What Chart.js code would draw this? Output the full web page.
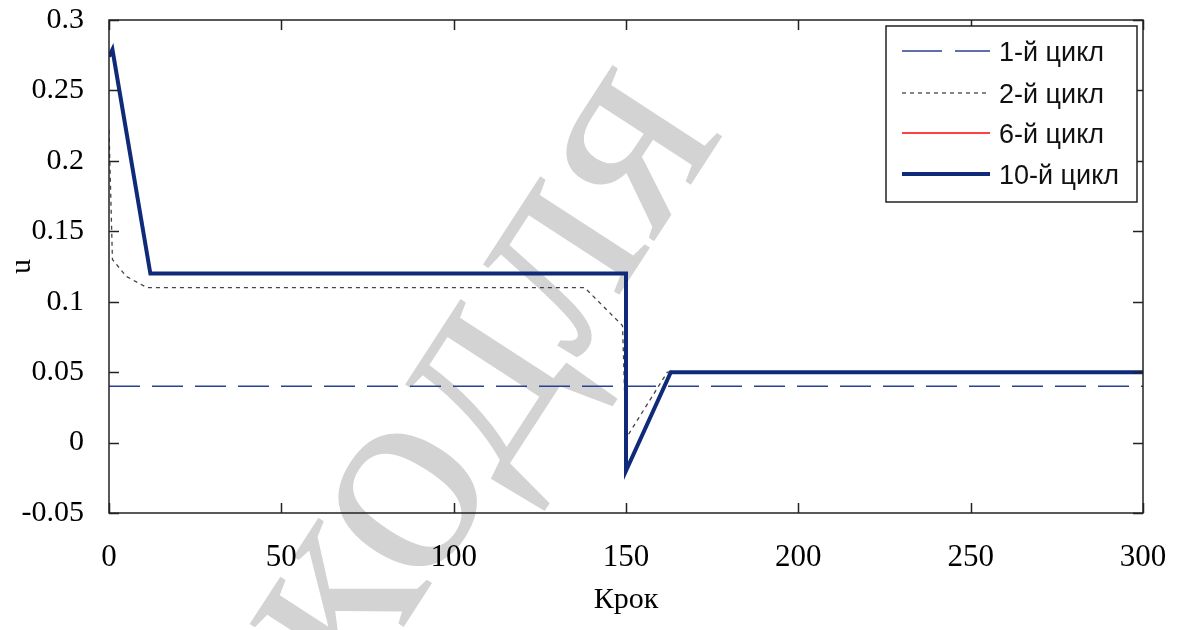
<!DOCTYPE html>
<html>
<head>
<meta charset="utf-8">
<script src="https://cdn.jsdelivr.net/npm/chart.js@4.4.0/dist/chart.umd.min.js"></script>
<style>
  html, body { margin: 0; padding: 0; background: #fff; }
  #wrap { width: 1179px; height: 630px; }
</style>
</head>
<body>
<div id="wrap"><canvas id="chart" width="1179" height="630"></canvas></div>
<script>
// tick values
const xTicks = [0, 50, 100, 150, 200, 250, 300];
const yTicks = [-0.05, 0, 0.05, 0.1, 0.15, 0.2, 0.25, 0.3];

// series
const seriesNames = ['1-й цикл', '2-й цикл', '6-й цикл', '10-й цикл'];
const cycle1X = [0, 300];
const cycle1Y = [0.04, 0.04];
const cycle2X = [0, 1, 5, 11, 138, 149, 150, 162, 300];
const cycle2Y = [0.222, 0.13, 0.118, 0.11, 0.11, 0.083, 0.003, 0.05, 0.05];
const cycle6X = [0, 1, 12, 150, 150, 163, 300];
const cycle6Y = [0.274, 0.279, 0.12, 0.12, -0.02, 0.05, 0.05];
const cycle10X = [0, 1, 12, 150, 150, 163, 300];
const cycle10Y = [0.274, 0.279, 0.12, 0.12, -0.02, 0.05, 0.05];

const watermark = 'кодля';

function pts(xs, ys) {
  return xs.map((x, i) => ({ x: x, y: ys[i] }));
}

const SERIF = "'Liberation Serif', 'Times New Roman', serif";
const SANS = "'Liberation Sans', Arial, sans-serif";

// gray watermark behind everything
const watermarkPlugin = {
  id: 'watermark',
  beforeDraw(chart) {
    const ctx = chart.ctx;
    ctx.save();
    ctx.translate(478, 375);
    ctx.rotate(-57 * Math.PI / 180);
    ctx.font = '285px ' + SERIF;
    ctx.fillStyle = '#d3d3d3';
    ctx.textAlign = 'center';
    ctx.textBaseline = 'middle';
    ctx.fillText(watermark, 0, 0);
    ctx.restore();
  }
};

// matlab-like box with inward ticks, and the legend
const boxPlugin = {
  id: 'box',
  afterDraw(chart) {
    const ctx = chart.ctx;
    const a = chart.chartArea;
    const sx = chart.scales.x, sy = chart.scales.y;
    ctx.save();
    ctx.strokeStyle = '#222';
    ctx.lineWidth = 1.5;
    ctx.strokeRect(a.left, a.top, a.right - a.left, a.bottom - a.top);
    ctx.beginPath();
    xTicks.forEach(v => {
      const px = Math.round(sx.getPixelForValue(v)) + 0.5;
      ctx.moveTo(px, a.bottom); ctx.lineTo(px, a.bottom - 10);
      ctx.moveTo(px, a.top); ctx.lineTo(px, a.top + 10);
    });
    yTicks.forEach(v => {
      const py = Math.round(sy.getPixelForValue(v)) + 0.5;
      ctx.moveTo(a.left, py); ctx.lineTo(a.left + 10, py);
      ctx.moveTo(a.right, py); ctx.lineTo(a.right - 10, py);
    });
    ctx.stroke();

    // legend box
    const lx = 886, ly = 26, lw = 251, lh = 176;
    ctx.fillStyle = '#fff';
    ctx.fillRect(lx, ly, lw, lh);
    ctx.strokeStyle = '#222';
    ctx.lineWidth = 1.5;
    ctx.strokeRect(lx, ly, lw, lh);
    const rows = [51, 93, 133, 174];
    ctx.font = '27px ' + SANS;
    ctx.textBaseline = 'middle';
    chart.data.datasets.forEach((ds, i) => {
      const y = rows[i];
      ctx.beginPath();
      ctx.strokeStyle = ds.borderColor;
      ctx.lineWidth = ds.borderWidth;
      ctx.setLineDash(i === 0 ? [40, 13] : (ds.borderDash || []));
      ctx.moveTo(902, y); ctx.lineTo(990, y);
      ctx.stroke();
      ctx.setLineDash([]);
      ctx.fillStyle = '#111';
      ctx.fillText(ds.label, 999, y + 3);
    });
    ctx.restore();
  }
};

new Chart(document.getElementById('chart'), {
  type: 'line',
  data: {
    datasets: [
      {
        label: seriesNames[0],
        data: pts(cycle1X, cycle1Y),
        borderColor: '#28428f',
        borderWidth: 1.6,
        borderDash: [31, 12],
        order: 3
      },
      {
        label: seriesNames[1],
        data: pts(cycle2X, cycle2Y),
        borderColor: '#444',
        borderWidth: 1.3,
        borderDash: [4, 4],
        order: 2
      },
      {
        label: seriesNames[2],
        data: pts(cycle6X, cycle6Y),
        borderColor: '#ff0000',
        borderWidth: 1.5,
        order: 1
      },
      {
        label: seriesNames[3],
        data: pts(cycle10X, cycle10Y),
        borderColor: '#0f2a78',
        borderWidth: 4,
        order: 0
      }
    ]
  },
  options: {
    responsive: false,
    animation: false,
    layout: { padding: { top: 20, right: 36, left: 0, bottom: 0 } },
    elements: { point: { radius: 0 }, line: { tension: 0 } },
    plugins: { legend: { display: false }, tooltip: { enabled: false } },
    scales: {
      x: {
        type: 'linear',
        min: 0,
        max: 300,
        afterBuildTicks: s => { s.ticks = xTicks.map(v => ({ value: v })); },
        afterFit: s => { s.height = 117; s.paddingLeft = 0; s.paddingRight = 0; },
        grid: { display: false },
        border: { display: false },
        ticks: {
          autoSkip: false,
          maxRotation: 0,
          padding: 18,
          color: '#000',
          font: { family: SERIF, size: 31 },
          callback: v => String(v)
        },
        title: {
          display: true,
          text: 'Крок',
          color: '#000',
          font: { family: SERIF, size: 30 },
          padding: { top: 0, bottom: 12 }
        }
      },
      y: {
        type: 'linear',
        min: -0.05,
        max: 0.3,
        afterBuildTicks: s => { s.ticks = yTicks.map(v => ({ value: v })); },
        afterFit: s => { s.width = 109; s.paddingTop = 0; s.paddingBottom = 0; },
        grid: { display: false },
        border: { display: false },
        ticks: {
          autoSkip: false,
          padding: 17,
          color: '#000',
          font: { family: SERIF, size: 30 },
          callback: v => String(+v.toFixed(2))
        },
        title: {
          display: true,
          text: 'u',
          color: '#000',
          font: { family: SERIF, size: 30 },
          padding: { top: 4, bottom: 0 }
        }
      }
    }
  },
  plugins: [watermarkPlugin, boxPlugin]
});
</script>
</body>
</html>
